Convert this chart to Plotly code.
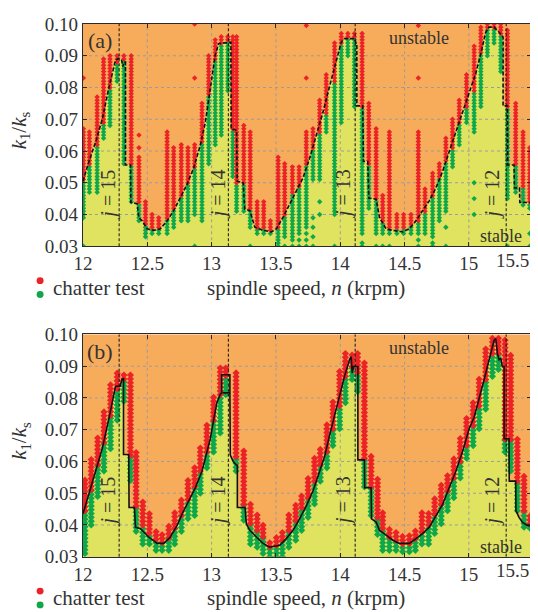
import numpy as np
import plotly.graph_objects as go

# ---------------- axes / labels ----------------
X_TICKS = [12, 12.5, 13, 13.5, 14, 14.5, 15]
X_TICK_TEXT = ["12", "12.5", "13", "13.5", "14", "14.5", "15"]
X_LAST_LABEL = "15.5"
Y_TICKS = [0.03, 0.04, 0.05, 0.06, 0.07, 0.08, 0.09, 0.10]
Y_TICK_TEXT = ["0.03", "0.04", "0.05", "0.06", "0.07", "0.08", "0.09", "0.10"]
X_RANGE = [12.0, 15.483]
Y_RANGE = [0.03, 0.10]

J_LABELS = ["15", "14", "13", "12"]
J_LINE_N = [12.281, 13.13, 14.116, 15.29]
J_TEXT_N = [12.198, 13.051, 14.02, 15.183]
J_TEXT_K = [0.0464, 0.0475]          # panel a, panel b

PANEL_LABELS = ["(a)", "(b)"]

# ---------------- stability boundary, panel (a) ----------------
A_bn = [12.000, 12.046, 12.098, 12.150, 12.201, 12.240, 12.253, 12.279, 12.300, 12.310, 12.318,
        12.330, 12.330, 12.370, 12.372, 12.421, 12.434, 12.460, 12.498, 12.550, 12.602, 12.654,
        12.705, 12.757, 12.808, 12.860, 12.912, 12.951, 12.990, 13.028, 13.054, 13.132, 13.150,
        13.152, 13.194, 13.199, 13.245, 13.258, 13.297, 13.336, 13.400, 13.465, 13.504, 13.555,
        13.607, 13.659, 13.710, 13.762, 13.814, 13.865, 13.917, 13.969, 14.008, 14.033, 14.111,
        14.124, 14.129, 14.129, 14.175, 14.180, 14.214, 14.222, 14.279, 14.305, 14.356, 14.408,
        14.486, 14.537, 14.589, 14.640, 14.692, 14.744, 14.796, 14.847, 14.899, 14.951, 15.002,
        15.054, 15.093, 15.131, 15.157, 15.196, 15.235, 15.260, 15.266, 15.266, 15.300, 15.302,
        15.351, 15.354, 15.393, 15.396, 15.483]
A_bk = [0.0505, 0.0567, 0.0628, 0.0700, 0.0799, 0.0866, 0.0886, 0.0892, 0.0886, 0.0866, 0.0880,
        0.0880, 0.0556, 0.0556, 0.0438, 0.0434, 0.0390, 0.0380, 0.0355, 0.0350, 0.0355, 0.0380,
        0.0412, 0.0453, 0.0494, 0.0546, 0.0618, 0.0690, 0.0794, 0.0902, 0.0938, 0.0943, 0.0943,
        0.0670, 0.0665, 0.0505, 0.0500, 0.0417, 0.0412, 0.0360, 0.0350, 0.0345, 0.0355, 0.0391,
        0.0432, 0.0474, 0.0515, 0.0577, 0.0649, 0.0721, 0.0804, 0.0886, 0.0943, 0.0954, 0.0954,
        0.0938, 0.0938, 0.0742, 0.0742, 0.0567, 0.0567, 0.0452, 0.0448, 0.0391, 0.0355, 0.0350,
        0.0345, 0.0355, 0.0380, 0.0412, 0.0443, 0.0484, 0.0536, 0.0598, 0.0660, 0.0721, 0.0783,
        0.0845, 0.0907, 0.0974, 0.0990, 0.0990, 0.0974, 0.0959, 0.0959, 0.0742, 0.0742, 0.0556,
        0.0556, 0.0484, 0.0484, 0.0438, 0.0438]

# ---------------- stability boundary, panel (b) ----------------
B_bn = [12.000, 12.046, 12.098, 12.150, 12.201, 12.240, 12.253, 12.289, 12.302, 12.315, 12.315,
        12.356, 12.358, 12.400, 12.408, 12.447, 12.511, 12.576, 12.628, 12.679, 12.731, 12.770,
        12.821, 12.873, 12.925, 12.964, 12.990, 13.015, 13.041, 13.067, 13.078, 13.078, 13.142,
        13.142, 13.085, 13.142, 13.145, 13.168, 13.194, 13.200, 13.200, 13.260, 13.270, 13.297,
        13.348, 13.400, 13.452, 13.530, 13.580, 13.633, 13.684, 13.736, 13.788, 13.840, 13.878,
        13.917, 13.956, 13.995, 14.033, 14.072, 14.085, 14.093, 14.103, 14.137, 14.137, 14.188,
        14.190, 14.240, 14.243, 14.279, 14.305, 14.360, 14.408, 14.460, 14.537, 14.589, 14.640,
        14.692, 14.744, 14.796, 14.847, 14.899, 14.951, 15.002, 15.041, 15.080, 15.119, 15.157,
        15.196, 15.209, 15.222, 15.235, 15.248, 15.260, 15.274, 15.274, 15.312, 15.314, 15.364,
        15.366, 15.390, 15.416, 15.455, 15.483]
B_bk = [0.0435, 0.0496, 0.0569, 0.0641, 0.0734, 0.0821, 0.0837, 0.0837, 0.0858, 0.0862, 0.0622,
        0.0622, 0.0455, 0.0455, 0.0393, 0.0388, 0.0362, 0.0342, 0.0342, 0.0362, 0.0398, 0.0434,
        0.0476, 0.0517, 0.0569, 0.0631, 0.0672, 0.0729, 0.0785, 0.0811, 0.0816, 0.0873, 0.0873,
        0.0816, 0.0816, 0.0816, 0.0620, 0.0600, 0.0588, 0.0588, 0.0455, 0.0455, 0.0403, 0.0383,
        0.0362, 0.0342, 0.0330, 0.0336, 0.0357, 0.0383, 0.0419, 0.0460, 0.0507, 0.0569, 0.0615,
        0.0682, 0.0744, 0.0806, 0.0868, 0.0920, 0.0930, 0.0878, 0.0899, 0.0899, 0.0605, 0.0605,
        0.0517, 0.0517, 0.0419, 0.0409, 0.0383, 0.0367, 0.0352, 0.0342, 0.0342, 0.0357, 0.0373,
        0.0393, 0.0429, 0.0465, 0.0517, 0.0569, 0.0631, 0.0703, 0.0739, 0.0796, 0.0858, 0.0920,
        0.0981, 0.0987, 0.0940, 0.0920, 0.0925, 0.0899, 0.0899, 0.0672, 0.0672, 0.0538, 0.0538,
        0.0445, 0.0424, 0.0409, 0.0398, 0.0398]

# ---------------- chatter tests, panel (a): speed, lowest stable, first unstable, highest unstable
A_col_n = [12.003, 12.050, 12.110, 12.160, 12.210, 12.265, 12.318, 12.375, 12.435, 12.486, 12.537,
           12.589, 12.654, 12.705, 12.764, 12.816, 12.868, 12.925, 12.977, 13.028, 13.075, 13.126,
           13.165, 13.194, 13.250, 13.300, 13.354, 13.405, 13.457, 13.517, 13.568, 13.628, 13.680,
           13.736, 13.788, 13.840, 13.891, 13.956, 14.008, 14.059, 14.110, 14.170, 14.222, 14.279,
           14.330, 14.382, 14.440, 14.493, 14.550, 14.607, 14.659, 14.718, 14.770, 14.821, 14.873,
           14.925, 14.982, 15.041, 15.093, 15.144, 15.196, 15.248, 15.300, 15.364, 15.421, 15.473]
A_col_glo = [0.039, 0.047, 0.047, 0.064, 0.068, 0.082, 0.056, 0.044, 0.038, 0.033, 0.034,
             0.034, 0.034, 0.036, 0.038, 0.038, 0.040, 0.038, 0.056, 0.062, 0.065, 0.079,
             0.052, 0.041, 0.041, 0.036, 0.034, 0.034, 0.034, 0.031, 0.033, 0.032, 0.034,
             0.036, 0.051, 0.051, 0.066, 0.040, 0.069, 0.090, 0.074, 0.034, 0.042, 0.034,
             0.034, 0.034, 0.034, 0.034, 0.034, 0.034, 0.034, 0.033, 0.038, 0.041, 0.055,
             0.062, 0.069, 0.066, 0.074, 0.090, 0.094, 0.085, 0.045, 0.047, 0.043, 0.042]
A_col_rlo = [0.051, 0.056, 0.062, 0.069, 0.080, 0.088, 0.089, 0.056, 0.044, 0.037, 0.036,
             0.036, 0.039, 0.042, 0.046, 0.050, 0.055, 0.063, 0.078, 0.089, 0.094, 0.095,
             0.067, 0.050, 0.050, 0.042, 0.036, 0.036, 0.035, 0.036, 0.040, 0.047, 0.049,
             0.056, 0.061, 0.066, 0.072, 0.082, 0.094, 0.096, 0.096, 0.074, 0.056, 0.045,
             0.038, 0.036, 0.036, 0.036, 0.037, 0.038, 0.041, 0.046, 0.052, 0.057, 0.061,
             0.069, 0.074, 0.079, 0.091, 0.099, 0.099, 0.097, 0.074, 0.056, 0.049, 0.044]
A_col_rhi = [0.067, 0.066, 0.077, 0.089, 0.090, 0.090, 0.090, 0.090, 0.058, 0.044, 0.040,
             0.039, 0.066, 0.061, 0.062, 0.061, 0.062, 0.075, 0.090, 0.095, 0.096, 0.096,
             0.096, 0.096, 0.068, 0.066, 0.044, 0.044, 0.038, 0.058, 0.056, 0.055, 0.055,
             0.066, 0.067, 0.076, 0.084, 0.094, 0.097, 0.097, 0.097, 0.097, 0.075, 0.067,
             0.046, 0.066, 0.040, 0.040, 0.040, 0.066, 0.048, 0.053, 0.056, 0.064, 0.070,
             0.076, 0.084, 0.093, 0.099, 0.100, 0.100, 0.100, 0.098, 0.075, 0.066, 0.061]
# isolated single tests, panel (a)
A_iso_red_n = [12.003, 12.868, 12.868, 12.435, 12.435, 13.736, 13.736, 14.607, 14.607]
A_iso_red_k = [0.083, 0.083, 0.100, 0.065, 0.061, 0.0995, 0.083, 0.0995, 0.083]
A_iso_green_n = [12.003, 12.868, 13.300, 13.517, 13.568, 13.628, 13.680, 13.680, 13.736, 13.736,
                 13.736, 13.788, 13.788, 13.788, 13.788, 13.840, 13.840, 13.956, 14.170, 14.170,
                 14.279, 14.330, 14.382, 14.607, 14.607, 14.718, 14.718, 14.821, 14.821, 15.041,
                 15.041, 15.041, 15.300, 15.473, 15.473]
A_iso_green_k = [0.030, 0.030, 0.030, 0.030, 0.030, 0.030, 0.030, 0.032, 0.030, 0.032,
                 0.034, 0.030, 0.033, 0.036, 0.039, 0.040, 0.044, 0.030, 0.030, 0.031,
                 0.030, 0.030, 0.030, 0.030, 0.032, 0.030, 0.031, 0.030, 0.036, 0.040,
                 0.045, 0.050, 0.030, 0.030, 0.034]

# ---------------- chatter tests, panel (b)
B_col_n = [12.015, 12.064, 12.114, 12.163, 12.214, 12.266, 12.318, 12.369, 12.413, 12.465, 12.516,
           12.568, 12.615, 12.667, 12.713, 12.765, 12.816, 12.868, 12.912, 12.963, 13.015, 13.067,
           13.110, 13.190, 13.250, 13.302, 13.354, 13.400, 13.452, 13.504, 13.550, 13.600, 13.654,
           13.700, 13.750, 13.800, 13.845, 13.896, 13.943, 13.995, 14.040, 14.092, 14.135, 14.188,
           14.240, 14.290, 14.330, 14.382, 14.434, 14.485, 14.537, 14.584, 14.635, 14.687, 14.734,
           14.785, 14.834, 14.883, 14.933, 14.982, 15.033, 15.080, 15.131, 15.183, 15.230, 15.281,
           15.325, 15.377, 15.429, 15.475]
B_col_glo = [0.031, 0.040, 0.049, 0.057, 0.064, 0.073, 0.079, 0.054, 0.038, 0.034, 0.034,
             0.032, 0.032, 0.032, 0.034, 0.038, 0.042, 0.043, 0.050, 0.058, 0.063, 0.069,
             0.081, 0.057, 0.0415, 0.034, 0.033, 0.031, 0.030, 0.030, 0.030, 0.033, 0.0352,
             0.0383, 0.0424, 0.0466, 0.0538, 0.058, 0.065, 0.0703, 0.0785, 0.0858, 0.082, 0.052,
             0.043, 0.037, 0.032, 0.032, 0.032, 0.0316, 0.0316, 0.032, 0.034, 0.034, 0.0373,
             0.0404, 0.0445, 0.0486, 0.0548, 0.061, 0.065, 0.0703, 0.0765, 0.0868, 0.089, 0.063,
             0.057, 0.0445, 0.0393, 0.039]
B_col_rlo = [0.0445, 0.051, 0.059, 0.066, 0.0745, 0.083, 0.086, 0.062, 0.046, 0.040, 0.0375,
             0.0355, 0.0345, 0.036, 0.039, 0.043, 0.048, 0.052, 0.057, 0.063, 0.073, 0.081,
             0.087, 0.0615, 0.0465, 0.0405, 0.0383, 0.0363, 0.0332, 0.0336, 0.0352, 0.0383, 0.0414,
             0.0455, 0.0486, 0.0538, 0.0590, 0.0631, 0.0703, 0.0775, 0.0868, 0.0899, 0.088, 0.061,
             0.052, 0.0424, 0.039, 0.0362, 0.0352, 0.034, 0.0342, 0.0357, 0.0378, 0.040, 0.0434,
             0.0465, 0.0507, 0.0548, 0.060, 0.0651, 0.0713, 0.0775, 0.0858, 0.094, 0.094, 0.067,
             0.067, 0.0538, 0.0445, 0.0404]
B_col_rhi = [0.055, 0.061, 0.068, 0.076, 0.085, 0.088, 0.088, 0.088, 0.063, 0.048, 0.044,
             0.038, 0.037, 0.040, 0.044, 0.048, 0.054, 0.059, 0.065, 0.072, 0.081, 0.090,
             0.090, 0.089, 0.064, 0.0475, 0.044, 0.0404, 0.0352, 0.0362, 0.0383, 0.044, 0.0466,
             0.0496, 0.0548, 0.061, 0.0641, 0.0723, 0.0796, 0.0889, 0.094, 0.0945, 0.095, 0.091,
             0.0625, 0.0548, 0.0445, 0.0388, 0.038, 0.0367, 0.0372, 0.039, 0.044, 0.0445, 0.0486,
             0.0527, 0.0563, 0.0615, 0.0672, 0.0744, 0.0796, 0.0868, 0.096, 0.099, 0.099, 0.099,
             0.0945, 0.068, 0.0558, 0.0435]

TEST_STEP = [0.001, 0.0012]

# ---------------- styles ----------------
ORANGE = "#F6AC5B"
YELLOW = "#DFE35F"
RED = "#EC2227"
GREEN = "#0EA84A"
INK = "#2a2a2a"
FONT = "Liberation Serif"

# the page body has an 8px margin; coordinates below are window pixels
OFF = 8
W, H = 538 - OFF, 612 - OFF
ML, MT = 83 - OFF, 15 - OFF
MR = W - (532 - OFF)
MB = H - (557 - OFF)
PW, PH = W - ML - MR, H - MT - MB


def px(x):
    return (x - OFF - ML) / PW


def py(y):
    return (H - MB - (y - OFF)) / PH


def expand(ns, lo, mid, hi, step):
    gx, gy, rx, ry = [], [], [], []
    for n, a, b, c in zip(ns, lo, mid, hi):
        g = np.arange(a, b - 1e-9, step)
        r = np.arange(b, c + 1e-9, step)
        gx += [n] * len(g)
        gy += list(g)
        rx += [n] * len(r)
        ry += list(r)
    return gx, gy, rx, ry


def grid_lines(xt, yt, xr, yr):
    xs, ys = [], []
    for t in xt[1:]:
        xs += [t, t, None]
        ys += [yr[0], yr[1], None]
    for t in yt[1:-1]:
        xs += [xr[0], xr[1], None]
        ys += [t, t, None]
    return xs, ys


fig = go.Figure()

panels = [
    dict(bn=A_bn, bk=A_bk, cols=(A_col_n, A_col_glo, A_col_rlo, A_col_rhi),
         iso_r=(A_iso_red_n, A_iso_red_k), iso_g=(A_iso_green_n, A_iso_green_k),
         dash="4px,2px", msize=4.2),
    dict(bn=B_bn, bk=B_bk, cols=(B_col_n, B_col_glo, B_col_rlo, B_col_rhi),
         iso_r=([], []), iso_g=([], []), dash="solid", msize=5.5),
]

for i, p in enumerate(panels):
    xa = "x" if i == 0 else "x2"
    ya = "y" if i == 0 else "y2"
    fig.add_trace(go.Scatter(x=p["bn"], y=p["bk"], mode="lines", line=dict(width=0),
                             fill="tozeroy", fillcolor=YELLOW, xaxis=xa, yaxis=ya,
                             hoverinfo="skip", showlegend=False))
    gxs, gys = grid_lines(X_TICKS, Y_TICKS, X_RANGE, Y_RANGE)
    fig.add_trace(go.Scatter(x=gxs, y=gys, mode="lines",
                             line=dict(color="#9c9c9c", width=1, dash="dot"),
                             xaxis=xa, yaxis=ya, hoverinfo="skip", showlegend=False))
    gx, gy, rx, ry = expand(*p["cols"], TEST_STEP[i])
    gx += p["iso_g"][0]
    gy += p["iso_g"][1]
    rx += p["iso_r"][0]
    ry += p["iso_r"][1]
    fig.add_trace(go.Scatter(x=gx, y=gy, mode="markers",
                             marker=dict(symbol="diamond", size=p["msize"], color=GREEN,
                                         line=dict(width=0)),
                             xaxis=xa, yaxis=ya, showlegend=False))
    fig.add_trace(go.Scatter(x=rx, y=ry, mode="markers",
                             marker=dict(symbol="diamond", size=p["msize"], color=RED,
                                         line=dict(width=0)),
                             xaxis=xa, yaxis=ya, showlegend=False))
    fig.add_trace(go.Scatter(x=p["bn"], y=p["bk"], mode="lines",
                             line=dict(color="#111111", width=1.6, dash=p["dash"]),
                             xaxis=xa, yaxis=ya, hoverinfo="skip", showlegend=False))

axis_common = dict(showline=True, linecolor=INK, linewidth=1.3, mirror="ticks",
                   ticks="inside", ticklen=4, tickcolor=INK, showgrid=False,
                   zeroline=False, tickfont=dict(family=FONT, size=19, color="#333333"))

dom_a = [py(241), min(1.0, py(15))]
dom_b = [max(0.0, py(556.7)), py(330.7)]

fig.update_layout(
    width=W, height=H,
    margin=dict(l=ML, r=MR, t=MT, b=MB),
    paper_bgcolor="white",
    plot_bgcolor=ORANGE,
    xaxis=dict(domain=[0, 1], range=X_RANGE, anchor="y", tickvals=X_TICKS,
               ticktext=X_TICK_TEXT, **axis_common),
    yaxis=dict(domain=dom_a, range=Y_RANGE, anchor="x", tickvals=Y_TICKS,
               ticktext=Y_TICK_TEXT, **axis_common),
    xaxis2=dict(domain=[0, 1], range=X_RANGE, anchor="y2", tickvals=X_TICKS,
                ticktext=X_TICK_TEXT, **axis_common),
    yaxis2=dict(domain=dom_b, range=Y_RANGE, anchor="x2", tickvals=Y_TICKS,
                ticktext=Y_TICK_TEXT, **axis_common),
)

shapes = []
annotations = []
txt = dict(family=FONT, color="#333333")
C = dict(xanchor="center", yanchor="middle", showarrow=False)

for i in range(2):
    xa = "x" if i == 0 else "x2"
    ya = "y" if i == 0 else "y2"
    off = 0 if i == 0 else 315.7
    for jn, jt, lab in zip(J_LINE_N, J_TEXT_N, J_LABELS):
        shapes.append(dict(type="line", xref=xa, yref=f"{ya} domain", x0=jn, x1=jn, y0=0, y1=1,
                           line=dict(color="#111111", width=1, dash="3px,2px"), layer="above"))
        annotations.append(dict(x=jt, y=J_TEXT_K[i], xref=xa, yref=ya,
                                text=f"<i>j</i> = {lab}", textangle=-90,
                                font=dict(size=20, **txt), **C))
    annotations.append(dict(x=12.134, y=0.0947, xref=xa, yref=ya, text=PANEL_LABELS[i],
                            font=dict(size=22, **txt), **C))
    annotations.append(dict(x=14.614, y=0.0957, xref=xa, yref=ya, text="unstable",
                            font=dict(size=18, **txt), **C))
    annotations.append(dict(x=15.248, y=0.0331, xref=xa, yref=ya, text="stable",
                            font=dict(size=18, **txt), **C))
    annotations.append(dict(x=px(20), y=py(123 + off), xref="paper", yref="paper",
                            text="<i>k</i><sub>1</sub>/<i>k</i><sub>s</sub>", textangle=-90,
                            font=dict(size=21, **txt), **C))
    annotations.append(dict(x=px(306), y=py(283 + off), xref="paper", yref="paper",
                            text="spindle speed, <i>n</i> (krpm)",
                            font=dict(size=21, **txt), **C))
    annotations.append(dict(x=1.0, y=py(255 + off), xref="paper", yref="paper",
                            xanchor="right", yanchor="middle", showarrow=False,
                            text=X_LAST_LABEL, font=dict(size=19, **txt)))
    annotations.append(dict(x=px(51), y=py(283 + off), xref="paper", yref="paper",
                            xanchor="left", yanchor="middle", showarrow=False,
                            text="chatter test", font=dict(size=21, **txt)))
    for cy, col in ((276 + off, RED), (290 + off, GREEN)):
        shapes.append(dict(type="circle", xref="paper", yref="paper",
                           x0=px(36.5), x1=px(43.5), y0=py(cy + 3.5), y1=py(cy - 3.5),
                           fillcolor=col, line=dict(width=0)))

fig.update_layout(shapes=shapes, annotations=annotations)
fig.write_html("out.html")
